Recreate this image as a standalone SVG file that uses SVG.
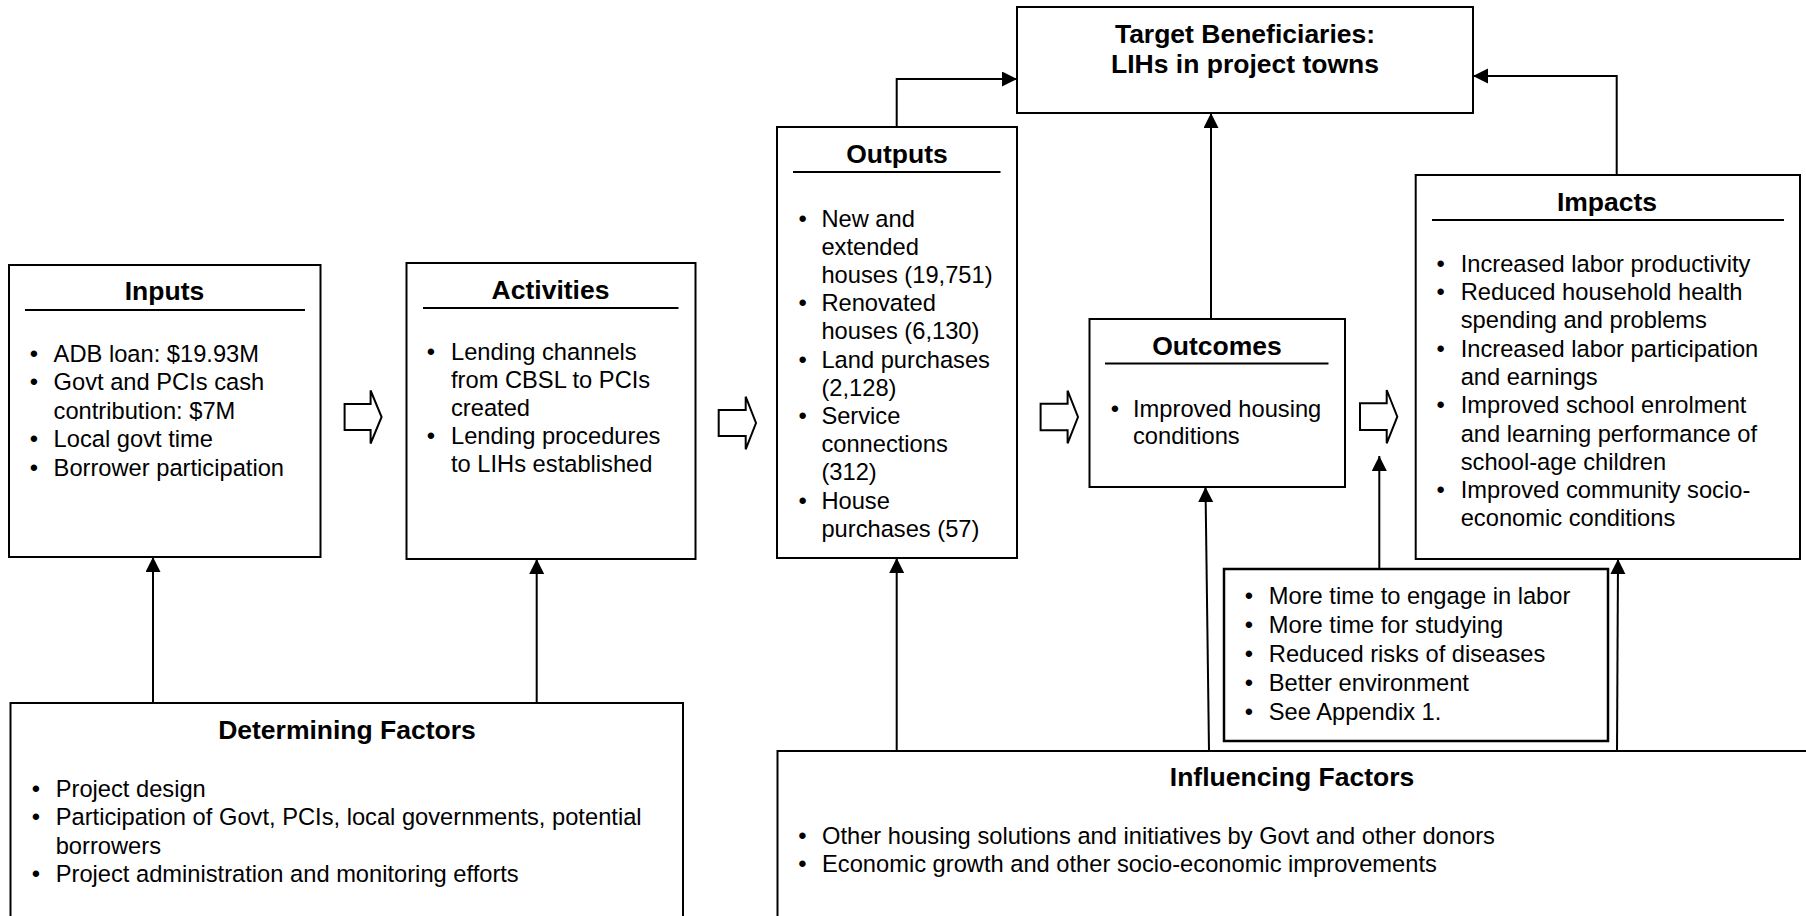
<svg xmlns="http://www.w3.org/2000/svg" width="1806" height="916" viewBox="0 0 1806 916">
<style>
.box{fill:#fff;stroke:#000;stroke-width:2}
.ul{stroke:#000;stroke-width:2}
.t{font-family:"Liberation Sans",Arial,sans-serif;font-size:23.7px;fill:#000}
.h{font-family:"Liberation Sans",Arial,sans-serif;font-size:26.5px;font-weight:bold;fill:#000;text-anchor:middle}
.b{text-anchor:middle}
.c{fill:none;stroke:#000;stroke-width:2}
.blk{fill:#fff;stroke:#000;stroke-width:2}
</style>
<defs>
<marker id="ah" markerUnits="userSpaceOnUse" markerWidth="16" markerHeight="16" viewBox="0 0 16 16" refX="15" refY="7.5" orient="auto">
<path d="M0,0 L15,7.5 L0,15 Z" fill="#000"/>
</marker>
</defs>
<rect width="1806" height="916" fill="#fff"/>

<g id="target">
<rect class="box" x="1017" y="7" width="456" height="106"/>
<text class="h" x="1245" y="43">Target Beneficiaries:</text>
<text class="h" x="1245" y="73">LIHs in project towns</text>
</g>

<g id="inputs">
<rect class="box" x="9" y="265" width="311.5" height="292"/>
<text class="h" x="164.5" y="300">Inputs</text>
<line class="ul" x1="25" y1="310" x2="305" y2="310"/>
<g class="t">
<text class="b" x="34" y="361.5">•</text><text x="53.6" y="361.5">ADB loan: $19.93M</text>
<text class="b" x="34" y="390.1">•</text><text x="53.6" y="390.1">Govt and PCIs cash</text>
<text x="53.6" y="418.7">contribution: $7M</text>
<text class="b" x="34" y="447.3">•</text><text x="53.6" y="447.3">Local govt time</text>
<text class="b" x="34" y="475.9">•</text><text x="53.6" y="475.9">Borrower participation</text>
</g>
</g>

<g id="activities">
<rect class="box" x="406.5" y="263" width="289" height="296"/>
<text class="h" x="550.5" y="298.5">Activities</text>
<line class="ul" x1="423" y1="308" x2="678.5" y2="308"/>
<g class="t">
<text class="b" x="431" y="360">•</text><text x="451" y="360">Lending channels</text>
<text x="451" y="388">from CBSL to PCIs</text>
<text x="451" y="416">created</text>
<text class="b" x="431" y="444">•</text><text x="451" y="444">Lending procedures</text>
<text x="451" y="472">to LIHs established</text>
</g>
</g>

<g id="outputs">
<rect class="box" x="777" y="127" width="240" height="431"/>
<text class="h" x="897" y="162.7">Outputs</text>
<line class="ul" x1="793" y1="172" x2="1000.5" y2="172"/>
<g class="t">
<text class="b" x="802.7" y="226.5">•</text><text x="821.4" y="226.5">New and</text>
<text x="821.4" y="254.7">extended</text>
<text x="821.4" y="282.9">houses (19,751)</text>
<text class="b" x="802.7" y="311.1">•</text><text x="821.4" y="311.1">Renovated</text>
<text x="821.4" y="339.3">houses (6,130)</text>
<text class="b" x="802.7" y="367.5">•</text><text x="821.4" y="367.5">Land purchases</text>
<text x="821.4" y="395.7">(2,128)</text>
<text class="b" x="802.7" y="423.9">•</text><text x="821.4" y="423.9">Service</text>
<text x="821.4" y="452.1">connections</text>
<text x="821.4" y="480.3">(312)</text>
<text class="b" x="802.7" y="508.5">•</text><text x="821.4" y="508.5">House</text>
<text x="821.4" y="536.7">purchases (57)</text>
</g>
</g>

<g id="outcomes">
<rect class="box" x="1089.5" y="319" width="255.5" height="168"/>
<text class="h" x="1217" y="354.5">Outcomes</text>
<line class="ul" x1="1105" y1="363.5" x2="1328.5" y2="363.5"/>
<g class="t">
<text class="b" x="1115" y="416.5">•</text><text x="1133" y="416.5">Improved housing</text>
<text x="1133" y="443.5">conditions</text>
</g>
</g>

<g id="impacts">
<rect class="box" x="1415.7" y="175" width="384.3" height="384"/>
<text class="h" x="1607" y="211">Impacts</text>
<line class="ul" x1="1432" y1="220" x2="1784" y2="220"/>
<g class="t">
<text class="b" x="1440.7" y="271.7">•</text><text x="1460.7" y="271.7">Increased labor productivity</text>
<text class="b" x="1440.7" y="300">•</text><text x="1460.7" y="300">Reduced household health</text>
<text x="1460.7" y="328.3">spending and problems</text>
<text class="b" x="1440.7" y="356.6">•</text><text x="1460.7" y="356.6">Increased labor participation</text>
<text x="1460.7" y="384.9">and earnings</text>
<text class="b" x="1440.7" y="413.2">•</text><text x="1460.7" y="413.2">Improved school enrolment</text>
<text x="1460.7" y="441.5">and learning performance of</text>
<text x="1460.7" y="469.8">school-age children</text>
<text class="b" x="1440.7" y="498.1">•</text><text x="1460.7" y="498.1">Improved community socio-</text>
<text x="1460.7" y="526.4">economic conditions</text>
</g>
</g>

<g id="channels">
<rect class="box" x="1224" y="569" width="384" height="172" style="stroke-width:2.5"/>
<g class="t">
<text class="b" x="1249" y="604">•</text><text x="1268.8" y="604">More time to engage in labor</text>
<text class="b" x="1249" y="633">•</text><text x="1268.8" y="633">More time for studying</text>
<text class="b" x="1249" y="662">•</text><text x="1268.8" y="662">Reduced risks of diseases</text>
<text class="b" x="1249" y="691">•</text><text x="1268.8" y="691">Better environment</text>
<text class="b" x="1249" y="720">•</text><text x="1268.8" y="720">See Appendix 1.</text>
</g>
</g>

<g id="determining">
<rect class="box" x="10.5" y="703" width="672.5" height="240"/>
<text class="h" x="347" y="738.5">Determining Factors</text>
<g class="t">
<text class="b" x="36" y="797">•</text><text x="55.7" y="797">Project design</text>
<text class="b" x="36" y="825.3">•</text><text x="55.7" y="825.3">Participation of Govt, PCIs, local governments, potential</text>
<text x="55.7" y="853.6">borrowers</text>
<text class="b" x="36" y="882">•</text><text x="55.7" y="882">Project administration and monitoring efforts</text>
</g>
</g>

<g id="influencing">
<rect class="box" x="777.5" y="751" width="1060" height="200"/>
<text class="h" x="1292" y="786">Influencing Factors</text>
<g class="t">
<text class="b" x="802.5" y="844">•</text><text x="822" y="844">Other housing solutions and initiatives by Govt and other donors</text>
<text class="b" x="802.5" y="872">•</text><text x="822" y="872">Economic growth and other socio-economic improvements</text>
</g>
</g>

<g id="connectors">
<path class="blk" d="M344.6,404 H370.6 V390.5 L381.6,417 L370.6,443.5 V430 H344.6 Z"/>
<path class="blk" d="M718.7,410 H745.7 V396.7 L756,423 L745.7,449.3 V436 H718.7 Z"/>
<path class="blk" d="M1040.6,403.7 H1067.6 V390.7 L1078,417 L1067.6,443.3 V430.3 H1040.6 Z"/>
<path class="blk" d="M1360,403.3 H1386.7 V390 L1397.3,416.7 L1386.7,443.3 V430 H1360 Z"/>
<line class="c" x1="153" y1="703" x2="153" y2="557" marker-end="url(#ah)"/>
<line class="c" x1="536.7" y1="703" x2="536.7" y2="559" marker-end="url(#ah)"/>
<line class="c" x1="896.7" y1="751" x2="896.7" y2="558" marker-end="url(#ah)"/>
<line class="c" x1="1209" y1="751" x2="1205.5" y2="487" marker-end="url(#ah)"/>
<line class="c" x1="1379.3" y1="569" x2="1379.3" y2="456" marker-end="url(#ah)"/>
<line class="c" x1="1617" y1="751" x2="1618" y2="559" marker-end="url(#ah)"/>
<polyline class="c" points="896.7,127 896.7,79 1017,79" marker-end="url(#ah)"/>
<line class="c" x1="1211" y1="319" x2="1211" y2="113" marker-end="url(#ah)"/>
<polyline class="c" points="1616.7,175 1616.7,76 1473,76" marker-end="url(#ah)"/>
</g>
</svg>
